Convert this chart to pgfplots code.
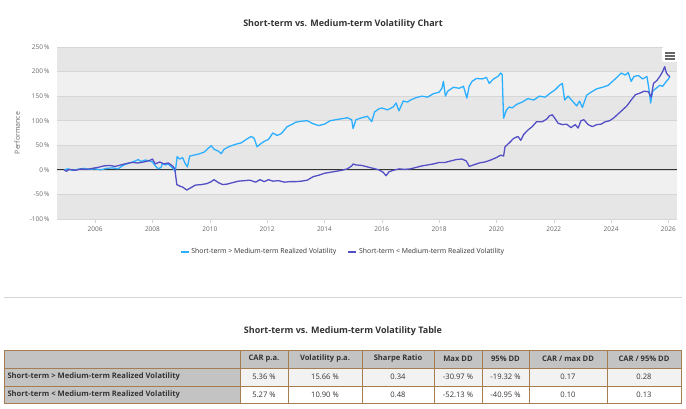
\documentclass[border=0pt]{standalone}
\usepackage{pgfplots}
\usepackage{pgfplotstable}
\usepackage{fontspec}
\setmainfont{Open Sans}
\pgfplotsset{compat=1.18}
\definecolor{stup}{HTML}{2CAFFE}
\definecolor{stdn}{HTML}{544FC5}
\definecolor{bandA}{HTML}{E6E6E6}
\definecolor{bandB}{HTML}{F0F0F0}
\definecolor{gridc}{HTML}{D6D6D6}
\definecolor{labc}{HTML}{666666}
\definecolor{txtc}{HTML}{333333}
\definecolor{hdrc}{HTML}{C3C3C3}
\definecolor{rowc}{HTML}{F2F2F2}
\definecolor{brd}{HTML}{A67C52}

% Short-term > Medium-term realized volatility (cumulative performance, %)
\pgfplotstableread{
year val
2004.92 0
2005.05 2
2005.2 -1
2005.4 1
2005.6 3
2005.8 1
2006.0 2
2006.2 0
2006.4 3
2006.6 4
2006.8 2
2007.0 10
2007.2 14
2007.4 18
2007.5 21
2007.6 17
2007.75 20
2007.9 18
2008.0 16
2008.1 8
2008.2 2
2008.3 5
2008.35 13
2008.45 10
2008.55 12
2008.7 4
2008.8 -3
2008.86 27
2008.95 22
2009.05 25
2009.15 12
2009.22 6
2009.3 28
2009.45 30
2009.6 32
2009.8 36
2009.95 44
2010.05 49
2010.15 42
2010.3 38
2010.4 33
2010.5 42
2010.7 48
2010.9 52
2011.1 55
2011.3 63
2011.45 68
2011.55 64
2011.65 47
2011.75 52
2011.9 58
2012.05 62
2012.2 75
2012.35 70
2012.5 74
2012.7 88
2012.85 92
2013.0 97
2013.2 99
2013.4 100
2013.6 94
2013.8 90
2014.0 93
2014.2 100
2014.4 102
2014.6 104
2014.8 106
2014.95 102
2015.0 84
2015.1 102
2015.3 106
2015.5 109
2015.65 98
2015.75 118
2015.9 124
2016.0 126
2016.2 122
2016.4 128
2016.5 136
2016.6 120
2016.75 140
2016.9 138
2017.0 142
2017.2 147
2017.4 150
2017.6 148
2017.8 155
2018.0 158
2018.1 166
2018.15 180
2018.22 150
2018.3 160
2018.5 168
2018.7 166
2018.85 170
2018.97 146
2019.05 170
2019.15 180
2019.3 186
2019.5 185
2019.65 188
2019.75 176
2019.9 185
2020.05 190
2020.15 197
2020.2 194
2020.25 105
2020.35 122
2020.45 128
2020.55 126
2020.7 133
2020.9 138
2021.1 145
2021.3 142
2021.5 150
2021.7 148
2021.9 157
2022.05 163
2022.2 172
2022.3 176
2022.38 142
2022.5 150
2022.65 140
2022.8 130
2022.9 140
2023.0 127
2023.15 152
2023.3 158
2023.5 165
2023.7 168
2023.9 172
2024.05 180
2024.2 188
2024.35 197
2024.5 193
2024.6 198
2024.7 180
2024.8 190
2024.95 192
2025.1 185
2025.25 190
2025.32 165
2025.38 136
2025.45 160
2025.55 165
2025.7 172
2025.8 170
2025.9 178
2026.0 185
2026.05 190
}\upvol

% Short-term < Medium-term realized volatility
\pgfplotstableread{
year val
2004.92 0
2005.0 -3
2005.1 1
2005.3 -1
2005.5 2
2005.7 1
2005.9 3
2006.1 5
2006.3 8
2006.5 9
2006.7 7
2006.9 10
2007.1 13
2007.3 15
2007.5 14
2007.7 16
2007.9 19
2008.0 22
2008.1 12
2008.25 16
2008.4 12
2008.55 14
2008.7 8
2008.78 2
2008.85 -30
2008.95 -33
2009.05 -35
2009.2 -41
2009.35 -36
2009.5 -31
2009.7 -30
2009.9 -28
2010.05 -24
2010.15 -20
2010.3 -26
2010.45 -30
2010.6 -29
2010.8 -26
2011.0 -23
2011.2 -22
2011.4 -21
2011.6 -25
2011.75 -20
2011.9 -24
2012.05 -20
2012.2 -23
2012.4 -22
2012.6 -25
2012.8 -24
2013.0 -24
2013.2 -23
2013.4 -21
2013.6 -14
2013.8 -11
2014.0 -7
2014.2 -5
2014.4 -3
2014.6 -1
2014.8 2
2014.95 8
2015.0 12
2015.1 10
2015.3 9
2015.5 6
2015.7 3
2015.9 0
2016.05 -5
2016.15 -12
2016.25 -4
2016.4 -1
2016.6 2
2016.8 1
2017.0 2
2017.2 5
2017.4 8
2017.6 10
2017.8 12
2018.0 15
2018.2 15
2018.4 18
2018.6 21
2018.8 22
2018.95 18
2019.05 7
2019.2 10
2019.4 14
2019.6 16
2019.8 20
2020.0 25
2020.15 30
2020.25 28
2020.3 47
2020.45 55
2020.6 64
2020.75 68
2020.85 60
2020.95 72
2021.1 81
2021.25 88
2021.4 98
2021.6 98
2021.75 103
2021.85 110
2021.95 112
2022.05 104
2022.15 95
2022.3 92
2022.45 93
2022.6 86
2022.75 92
2022.85 85
2022.95 100
2023.05 102
2023.2 92
2023.35 88
2023.5 92
2023.65 93
2023.8 98
2023.95 100
2024.1 106
2024.25 114
2024.4 122
2024.55 130
2024.7 142
2024.85 153
2025.0 156
2025.15 160
2025.3 159
2025.4 148
2025.48 176
2025.6 182
2025.7 190
2025.8 200
2025.87 210
2025.93 197
2026.0 192
2026.05 190
}\downvol

\begin{document}
\begin{tikzpicture}[x=1pt,y=1pt]

\node[text=txtc, font=\fontsize{9}{11}\selectfont\bfseries] at (343,385) {Short-term vs. Medium-term Volatility Chart};

\begin{axis}[
	at={(57pt,190pt)}, anchor=south west,
	scale only axis, width=620pt, height=172pt,
	set layers,
	xmin=2004.67, xmax=2026.3,
	ymin=-100, ymax=250,
	xtick={2006,2008,...,2026},
	ytick={-100,-50,...,250},
	/pgf/number format/assume math mode=true,
	xticklabel style={/pgf/number format/1000 sep={}, font=\fontsize{6.5}{8}\selectfont, text=labc},
	yticklabel={\pgfmathprintnumber{\tick}\,\%},
	yticklabel style={font=\fontsize{6.5}{8}\selectfont, text=labc},
	axis x line*=bottom, axis y line*=left,
	x axis line style={draw=gridc, -},
	y axis line style={draw=none},
	xtick pos=bottom, tick align=outside,
	major tick length=4pt,
	xtick style={draw=gridc},
	ytick style={draw=none},
	ymajorgrids, grid style={draw=gridc, line width=0.6pt},
	extra y ticks={0}, extra y tick labels={},
	extra y tick style={grid style={draw=black!80, line width=1.1pt}},
	ylabel={Performance},
	ylabel style={at={(axis description cs:-0.064,0.5)}, anchor=center, font=\fontsize{7}{8}\selectfont, text=labc},
	legend columns=2,
	legend style={at={(axis description cs:0.461,-0.19)}, anchor=center, draw=none, fill=none,
		font=\fontsize{6.9}{8}\selectfont, text=txtc,
		/tikz/every even column/.append style={column sep=9pt}},
	legend image code/.code={\draw[#1, line width=1.8pt] (0pt,0pt) -- (8pt,0pt);},
]
\begin{pgfonlayer}{axis background}
	\fill[bandA] (axis cs:2004.67,200) rectangle (axis cs:2026.3,250);
	\fill[bandB] (axis cs:2004.67,150) rectangle (axis cs:2026.3,200);
	\fill[bandA] (axis cs:2004.67,100) rectangle (axis cs:2026.3,150);
	\fill[bandB] (axis cs:2004.67,50) rectangle (axis cs:2026.3,100);
	\fill[bandA] (axis cs:2004.67,0) rectangle (axis cs:2026.3,50);
	\fill[bandB] (axis cs:2004.67,-50) rectangle (axis cs:2026.3,0);
	\fill[bandA] (axis cs:2004.67,-100) rectangle (axis cs:2026.3,-50);
\end{pgfonlayer}
\addplot[stup, line width=1.3pt, no marks, line join=round] table[x=year, y=val] {\upvol};
\addplot[stdn, line width=1.3pt, no marks, line join=round] table[x=year, y=val] {\downvol};
\legend{Short-term > Medium-term Realized Volatility, Short-term < Medium-term Realized Volatility}
\end{axis}

% context menu button
\fill[white, rounded corners=1.5pt] (662,347) rectangle (678,362);
\foreach \yy in {350,353,356} \draw[labc, line width=1.2pt] (665,\yy) -- (675,\yy);

% separator
\draw[gridc, line width=0.8pt] (4,112) -- (682,112);

% table
\node[text=txtc, font=\fontsize{9}{11}\selectfont\bfseries] at (343,78) {Short-term vs. Medium-term Volatility Table};
\fill[hdrc] (4,41) rectangle (681,59);
\fill[hdrc] (4,6) rectangle (240,41);
\fill[rowc] (240,23) rectangle (681,41);
\draw[brd, line width=0.8pt] (4,6) rectangle (681,59);
\draw[brd, line width=0.8pt] (4,41) -- (681,41) (4,23) -- (681,23);
\foreach \xx in {240,288,362,434,482,529,607} \draw[brd, line width=0.8pt] (\xx,6) -- (\xx,59);
\begin{scope}[every node/.style={text=txtc, font=\fontsize{7.6}{9}\selectfont}]
\node[font=\fontsize{7.6}{9}\selectfont\bfseries] at (264,50) {CAR p.a.};
\node[font=\fontsize{7.6}{9}\selectfont\bfseries] at (325,50) {Volatility p.a.};
\node[font=\fontsize{7.6}{9}\selectfont\bfseries] at (398,50) {Sharpe Ratio};
\node[font=\fontsize{7.6}{9}\selectfont\bfseries] at (458,50) {Max DD};
\node[font=\fontsize{7.6}{9}\selectfont\bfseries] at (505.5,50) {95\% DD};
\node[font=\fontsize{7.6}{9}\selectfont\bfseries] at (568,50) {CAR / max DD};
\node[font=\fontsize{7.6}{9}\selectfont\bfseries] at (644,50) {CAR / 95\% DD};
\node[anchor=west, font=\fontsize{7.6}{9}\selectfont\bfseries] at (4,32) {Short-term > Medium-term Realized Volatility};
\node[anchor=west, font=\fontsize{7.6}{9}\selectfont\bfseries] at (4,14.5) {Short-term < Medium-term Realized Volatility};
\node at (264,32) {5.36 \%};
\node at (325,32) {15.66 \%};
\node at (398,32) {0.34};
\node at (458,32) {-30.97 \%};
\node at (505.5,32) {-19.32 \%};
\node at (568,32) {0.17};
\node at (644,32) {0.28};
\node at (264,14.5) {5.27 \%};
\node at (325,14.5) {10.90 \%};
\node at (398,14.5) {0.48};
\node at (458,14.5) {-52.13 \%};
\node at (505.5,14.5) {-40.95 \%};
\node at (568,14.5) {0.10};
\node at (644,14.5) {0.13};
\end{scope}
\pgfresetboundingbox
\path[use as bounding box] (0,0) rectangle (686,409);
\end{tikzpicture}
\end{document}
